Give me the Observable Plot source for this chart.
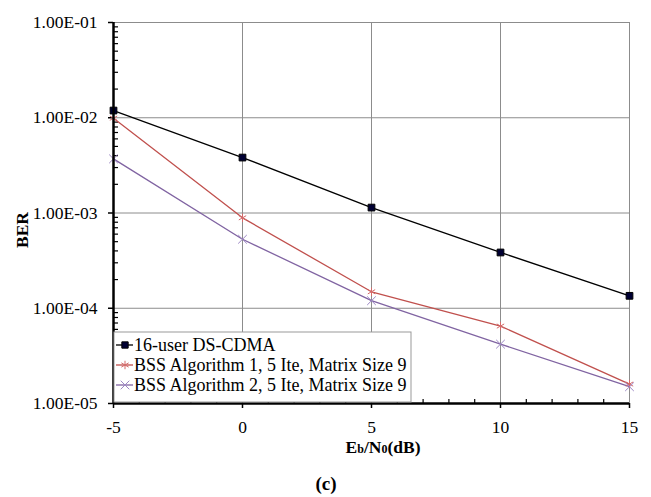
<!DOCTYPE html>
<html>
<head>
<meta charset="utf-8">
<script src="https://cdn.jsdelivr.net/npm/d3@7"></script>
<script src="https://cdn.jsdelivr.net/npm/@observablehq/plot@0.6"></script>
<style>
  html, body { margin: 0; padding: 0; background: #fff; }
  #chart svg { display: block; }
</style>
</head>
<body>
<div id="chart"></div>
<script>
const snr = [-5, 0, 5, 10, 15];
const berDSCDMA = [1.19e-2, 3.82e-3, 1.14e-3, 3.85e-4, 1.35e-4];
const berBSS1 = [9.9e-3, 8.9e-4, 1.49e-4, 6.5e-5, 1.6e-5];
const berBSS2 = [3.7e-3, 5.3e-4, 1.2e-4, 4.2e-5, 1.5e-5];
const seriesNames = ["16-user DS-CDMA", "BSS Algorithm 1, 5 Ite, Matrix Size 9", "BSS Algorithm 2, 5 Ite, Matrix Size 9"];
const yMajor = [1e-5, 1e-4, 1e-3, 1e-2, 1e-1];
const yMinor = [];
for (let e = -5; e < -1; e++) for (let m = 2; m <= 9; m++) yMinor.push(m * Math.pow(10, e));
const xMajor = [-5, 0, 5, 10, 15];
const xMinor = d3.range(-4, 15).filter(v => v % 5 !== 0);

const colors = ["#000000", "#C0504D", "#8064A2"];
const markColors = ["#000000", "#D46A6A", "#9C86C4"];
const FONT = "'Liberation Serif', 'Times New Roman', serif";
const FS = "17.5px";
const LFS = "18px";

const rows = (ys) => snr.map((x, i) => ({x, y: ys[i]}));
const d0 = rows(berDSCDMA), d1 = rows(berBSS1), d2 = rows(berBSS2);

const fmt = d => "1.00E-" + String(-Math.round(Math.log10(d))).padStart(2, "0");

const plot = Plot.plot({
  width: 651,
  height: 497,
  marginLeft: 113,
  marginRight: 22,
  marginTop: 22,
  marginBottom: 94,
  style: {fontFamily: FONT, fontSize: FS, background: "#fff", color: "#000"},
  x: {domain: [-5, 15], label: null},
  y: {type: "log", domain: [1e-5, 1e-1], label: null},
  marks: [
    Plot.gridY(yMajor, {stroke: "#8c8c8c", strokeOpacity: 1, strokeWidth: 1}),
    Plot.gridX(xMajor, {stroke: "#8c8c8c", strokeOpacity: 1, strokeWidth: 1}),
    Plot.axisY(yMajor, {tickSize: 5, tickPadding: 11, tickFormat: fmt, strokeWidth: 1.5}),
    Plot.axisY(yMinor, {tickSize: -5, tickFormat: () => "", strokeWidth: 1.2}),
    Plot.axisX(xMajor, {tickSize: 5, tickPadding: 12, tickFormat: d => String(d), strokeWidth: 1.5}),
    Plot.axisX(xMinor, {tickSize: -4, tickFormat: () => "", strokeWidth: 1.2}),
    Plot.line(d0, {x: "x", y: "y", stroke: colors[0], strokeWidth: 1.3}),
    Plot.line(d1, {x: "x", y: "y", stroke: colors[1], strokeWidth: 1.3}),
    Plot.line(d2, {x: "x", y: "y", stroke: colors[2], strokeWidth: 1.3}),
    Plot.dot(d0, {x: "x", y: "y", symbol: "square", r: 3.8, fill: "#000033", stroke: "#000", strokeWidth: 1}),
    Plot.dot(d1, {x: "x", y: "y", symbol: "asterisk", r: 4, stroke: markColors[1], strokeWidth: 1}),
    Plot.dot(d2, {x: "x", y: "y", symbol: "times", r: 4, stroke: markColors[2], strokeWidth: 1}),
    Plot.ruleX([-5], {stroke: "#000", strokeWidth: 2.5}),
    Plot.ruleY([1e-5], {stroke: "#000", strokeWidth: 2.5})
  ]
});

const svg = d3.select(plot);
const xs = plot.scale("x"), ys = plot.scale("y");
const X = v => xs.apply(v), Y = v => ys.apply(v);

// Legend
const lx0 = X(-5) + 1, ly1 = Y(1e-5) - 1, lw = 297, lh = 70;
const lg = svg.append("g").attr("text-anchor", "start");
lg.append("rect").attr("x", lx0).attr("y", ly1 - lh).attr("width", lw).attr("height", lh)
  .attr("fill", "#fff").attr("stroke", "#999").attr("stroke-width", 1);
const symbols = [d3.symbolSquare, d3.symbolAsterisk, d3.symbolTimes];
seriesNames.forEach((name, i) => {
  const cy = ly1 - lh + 13 + i * 20;
  lg.append("line").attr("x1", lx0 + 2).attr("x2", lx0 + 19).attr("y1", cy).attr("y2", cy)
    .attr("stroke", colors[i]).attr("stroke-width", 1.3);
  const size = i === 0 ? 40 : 50;
  lg.append("path").attr("d", d3.symbol(symbols[i], size)())
    .attr("transform", `translate(${lx0 + 11},${cy})`)
    .attr("fill", i === 0 ? "#000033" : "none")
    .attr("stroke", i === 0 ? "#000" : markColors[i]).attr("stroke-width", 1);
  lg.append("text").attr("x", lx0 + 20).attr("y", cy + 6).attr("text-anchor", "start")
    .style("font-size", LFS).text(name);
});

// Axis labels
const xl = svg.append("text").attr("x", 383).attr("y", 453).attr("text-anchor", "middle")
  .style("font-weight", "bold").style("font-size", FS);
xl.append("tspan").text("E");
xl.append("tspan").style("font-size", "12px").text("b");
xl.append("tspan").text("/N");
xl.append("tspan").style("font-size", "12px").text("0");
xl.append("tspan").text("(dB)");

svg.append("text").attr("transform", "translate(28,230) rotate(-90)").attr("text-anchor", "middle")
  .style("font-weight", "bold").style("font-size", FS).text("BER");

svg.append("text").attr("x", 326).attr("y", 490).attr("text-anchor", "middle")
  .style("font-weight", "bold").style("font-size", "19px").text("(c)");

// Force serif font on every text element
svg.selectAll("text").attr("font-family", FONT).style("font-family", FONT);
svg.selectAll("text").filter(function() { return !this.style.fontSize; }).style("font-size", FS);

document.getElementById("chart").appendChild(plot);
</script>
</body>
</html>
